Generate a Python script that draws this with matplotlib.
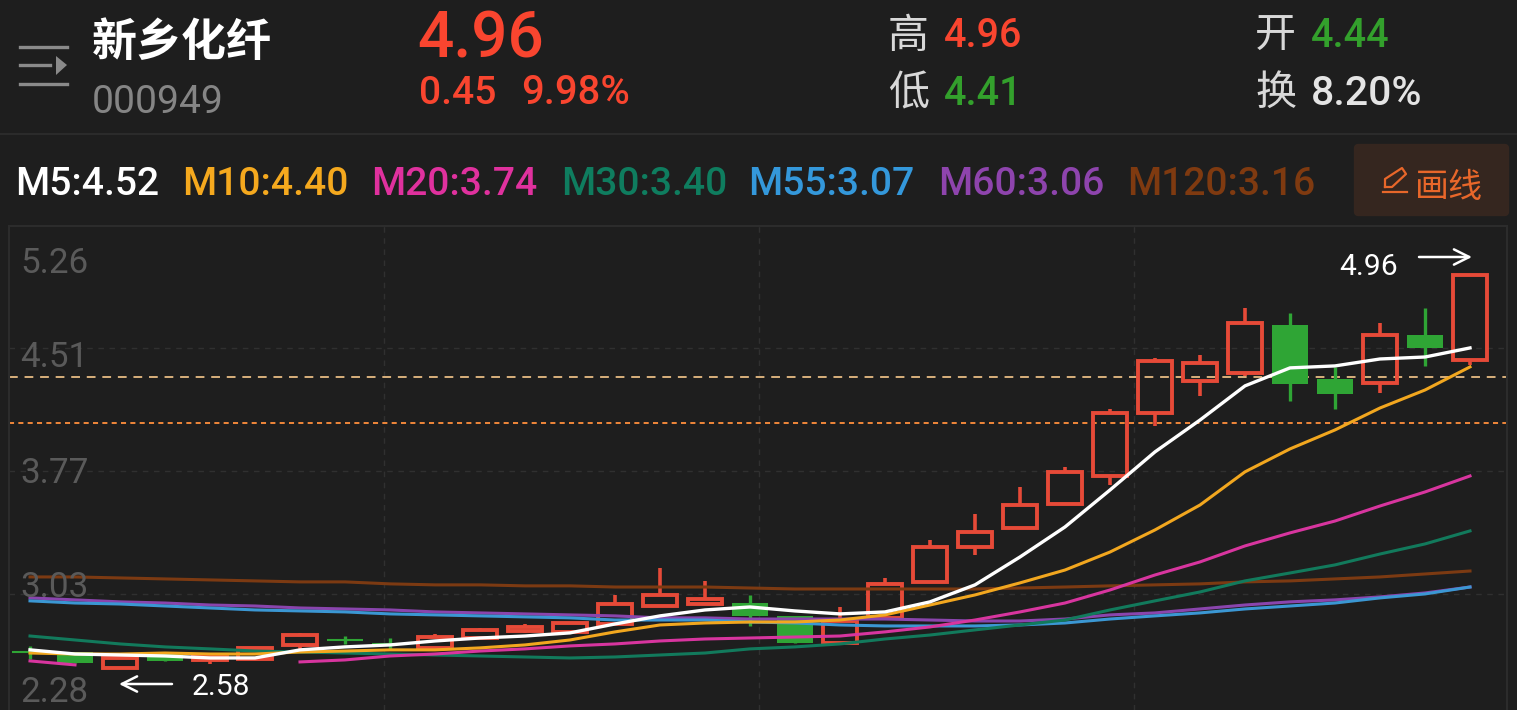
import matplotlib
matplotlib.use("Agg")
import matplotlib.pyplot as plt
from matplotlib.patches import Rectangle, FancyBboxPatch, Polygon
import numpy as np

nan = float("nan")

opens = [2.672, 2.672, 2.575, 2.672, 2.624, 2.630, 2.715, 2.745, 2.721, 2.697, 2.757,
         2.800, 2.794, 2.842, 2.951, 2.963, 2.969, 2.891, 2.727, 2.879, 3.097, 3.309,
         3.424, 3.569, 3.739, 4.121, 4.315, 4.363, 4.654, 4.327, 4.303, 4.593, 4.44]
highs = [2.709, 2.672, 2.642, 2.672, 2.654, 2.697, 2.788, 2.769, 2.757, 2.781, 2.818,
         2.842, 2.848, 3.018, 3.181, 3.103, 3.018, 2.891, 2.945, 3.121, 3.352, 3.509,
         3.673, 3.794, 4.145, 4.454, 4.472, 4.757, 4.727, 4.400, 4.666, 4.757, 4.96]
lows = [2.630, 2.606, 2.575, 2.618, 2.600, 2.630, 2.685, 2.721, 2.685, 2.697, 2.757,
        2.788, 2.794, 2.842, 2.951, 2.963, 2.830, 2.727, 2.727, 2.879, 3.091, 3.260,
        3.424, 3.569, 3.685, 4.042, 4.224, 4.345, 4.194, 4.145, 4.242, 4.406, 4.41]
closes = [2.670, 2.606, 2.636, 2.618, 2.654, 2.697, 2.775, 2.743, 2.719, 2.763, 2.806,
          2.824, 2.848, 2.963, 3.018, 2.994, 2.891, 2.727, 2.860, 3.085, 3.309, 3.400,
          3.563, 3.764, 4.121, 4.436, 4.424, 4.666, 4.297, 4.236, 4.593, 4.515, 4.96]

m5 = [2.685, 2.660, 2.654, 2.648, 2.636, 2.636, 2.685, 2.703, 2.715, 2.739, 2.757,
      2.769, 2.788, 2.842, 2.891, 2.927, 2.945, 2.921, 2.903, 2.915, 2.976, 3.079,
      3.248, 3.430, 3.654, 3.885, 4.078, 4.285, 4.394, 4.406, 4.448, 4.460, 4.515]
m10 = [2.666, 2.660, 2.660, 2.666, 2.660, 2.660, 2.672, 2.678, 2.685, 2.685, 2.697,
       2.715, 2.745, 2.794, 2.836, 2.848, 2.854, 2.854, 2.866, 2.897, 2.957, 3.018,
       3.091, 3.169, 3.278, 3.412, 3.563, 3.764, 3.903, 4.018, 4.151, 4.260, 4.400]
m20 = [2.618, 2.594, nan, nan, nan, nan, 2.612, 2.624, 2.648, 2.660, 2.678,
       2.691, 2.709, 2.721, 2.739, 2.751, 2.757, 2.763, 2.769, 2.794, 2.824, 2.866,
       2.915, 2.969, 3.048, 3.139, 3.218, 3.315, 3.394, 3.466, 3.557, 3.642, 3.739]
m30 = [2.769, 2.745, 2.721, 2.703, 2.691, 2.678, 2.672, 2.666, 2.660, 2.654, 2.648,
       2.642, 2.636, 2.642, 2.654, 2.666, 2.691, 2.703, 2.721, 2.751, 2.775, 2.806,
       2.836, 2.866, 2.927, 2.982, 3.036, 3.103, 3.151, 3.200, 3.266, 3.327, 3.406]
m55 = [2.982, 2.969, 2.963, 2.951, 2.939, 2.927, 2.921, 2.915, 2.903, 2.897, 2.891,
       2.885, 2.879, 2.866, 2.866, 2.866, 2.854, 2.848, 2.836, 2.830, 2.830, 2.830,
       2.836, 2.848, 2.872, 2.891, 2.909, 2.933, 2.951, 2.969, 3.000, 3.024, 3.066]
m60 = [3.000, 2.988, 2.976, 2.969, 2.957, 2.951, 2.939, 2.933, 2.927, 2.915, 2.909,
       2.903, 2.897, 2.891, 2.879, 2.879, 2.872, 2.872, 2.872, 2.872, 2.866, 2.860,
       2.860, 2.872, 2.897, 2.909, 2.933, 2.957, 2.976, 2.988, 3.006, 3.030, 3.066]
m120 = [3.127, 3.127, 3.121, 3.115, 3.109, 3.103, 3.097, 3.097, 3.085, 3.079, 3.079,
        3.073, 3.073, 3.066, 3.066, 3.066, 3.060, 3.054, 3.054, 3.054, 3.054, 3.054,
        3.060, 3.066, 3.073, 3.079, 3.085, 3.097, 3.103, 3.115, 3.127, 3.145, 3.163]

y_ticks = [5.26, 4.515, 3.77, 3.024]
y_tick_labels = ["5.26", "4.51", "3.77", "3.03", "2.28"]
y_label_base = [273, 367, 483, 597, 702]
x_grid = [7.86, 16.2, 24.53]
draw_levels = [4.339, 4.06]

BG = "#1e1e1e"
RED = "#e64a38"
GREEN = "#2fa535"
TXT_RED = "#f9452f"
TXT_GREEN = "#33a02c"
W, H = 1517, 710
LATIN = ["Roboto", "DejaVu Sans"]
CJK = ["Noto Sans CJK SC", "DejaVu Sans"]

fig = plt.figure(figsize=(W / 100, H / 100), dpi=100, facecolor=BG)

# price axes, placed at pixel box x 9-1507, y 226-710
ax = fig.add_axes([9 / W, 0, (1507 - 9) / W, (710 - 226) / H], facecolor=BG)
ax.set_xlim((9 - 30) / 45, (1507 - 30) / 45)
ax.set_ylim(5.26 - (710 - 225) / 165, 5.26 - 1 / 165)
ax.set_xticks([])
ax.set_yticks([])
for name, sp in ax.spines.items():
    sp.set_color("#2c2c2c")
    sp.set_linewidth(1.5)
ax.spines["bottom"].set_visible(False)

for yv in y_ticks:
    ax.axhline(yv, color="#303030", lw=1, ls=(0, (4, 4)), zorder=1)
for xv in x_grid:
    ax.axvline(xv, color="#303030", lw=1, ls=(0, (4, 4)), zorder=1)

ax.axhline(draw_levels[0], color="#d9b07c", lw=1.4, ls=(0, (4.5, 3.5)), zorder=2)
ax.axhline(draw_levels[1], color="#f0873a", lw=1.4, ls=(0, (2.6, 2.2)), zorder=2)

idx = np.arange(len(opens))
for i in idx:
    o, h, l, c = opens[i], highs[i], lows[i], closes[i]
    if c >= o:
        ax.add_patch(Rectangle((i - 0.38, o), 0.76, c - o, fc="none", ec=RED, lw=2.8, zorder=3))
        ax.vlines(i, c, h, color=RED, lw=2.6, zorder=3)
        ax.vlines(i, l, o, color=RED, lw=2.6, zorder=3)
    else:
        ax.vlines(i, l, h, color=GREEN, lw=2.4, zorder=3)
        ax.add_patch(Rectangle((i - 0.41, c), 0.82, o - c, fc=GREEN, ec="none", zorder=3))
ax.hlines([closes[0], closes[7], closes[8]], [-0.41, 6.6, 7.6], [0.41, 7.4, 8.4], color=GREEN, lw=1.5, zorder=3)

ax.plot(idx, m120, color="#7c3a12", lw=2.2, zorder=4)
ax.plot(idx, m60, color="#8a45ad", lw=2.2, zorder=4)
ax.plot(idx, m55, color="#3b97d3", lw=2.2, zorder=4)
ax.plot(idx, m30, color="#127a5c", lw=2.2, zorder=4)
ax.plot(idx, m20, color="#d8359f", lw=2.2, zorder=4)
ax.plot(idx, m10, color="#f2a71f", lw=2.2, zorder=5)
ax.plot(idx, m5, color="#ffffff", lw=2.4, zorder=6)

# overlay in pixel coordinates for the header and labels
ov = fig.add_axes([0, 0, 1, 1], facecolor="none")
ov.set_xlim(0, W)
ov.set_ylim(H, 0)
ov.axis("off")


def put(x, y, s, px, color, fam=LATIN, **kw):
    ov.text(x, y, s, fontsize=px * 0.72, color=color, family=fam, va="baseline", **kw)


ov.plot([0, W], [134, 134], color="#2e2e2e", lw=1.2)
ov.plot([20, 67], [47, 47], color="#8a8a8a", lw=2.4)
ov.plot([20, 50], [65, 65], color="#8a8a8a", lw=2.4)
ov.plot([20, 67], [84, 84], color="#8a8a8a", lw=2.4)
ov.add_patch(Polygon([[56, 56], [67, 65], [56, 75]], fc="#8a8a8a", ec="none"))

put(92, 56, "新乡化纤", 45, "#ffffff", fam=CJK, fontweight="bold")
put(92, 113, "000949", 39, "#858585")
put(417, 58, "4.96", 64, TXT_RED, fontweight="medium")
put(419, 104, "0.45", 39, TXT_RED, fontweight="medium")
put(521, 104, "9.98%", 40, TXT_RED, fontweight="medium")
put(888, 48, "高", 41, "#d8d8d8", fam=CJK)
put(944, 47, "4.96", 39.5, TXT_RED, fontweight="medium")
put(1255, 48, "开", 41, "#d8d8d8", fam=CJK)
put(1311, 47, "4.44", 39.5, TXT_GREEN, fontweight="medium")
put(888, 105, "低", 41, "#d8d8d8", fam=CJK)
put(944, 105, "4.41", 39.5, TXT_GREEN, fontweight="medium")
put(1255, 105, "换", 41, "#d8d8d8", fam=CJK)
put(1311, 105, "8.20%", 41, "#e4e4e4", fontweight="medium")

legend_text = ["M5:4.52", "M10:4.40", "M20:3.74", "M30:3.40", "M55:3.07", "M60:3.06", "M120:3.16"]
legend_x = [15, 182, 371, 561, 748, 938, 1127]
legend_col = ["#ffffff", "#f5a91e", "#e0319e", "#0f7d5f", "#3498db", "#8e44ad", "#7f3a10"]
for s, xp, col in zip(legend_text, legend_x, legend_col):
    put(xp, 195, s, 39, col, fontweight="medium")

ov.add_patch(FancyBboxPatch((1358, 148), 147, 64, boxstyle="round,pad=0,rounding_size=0", fc="#35261f",
                            ec="#35261f", lw=6, joinstyle="round"))
ov.plot([1383, 1407], [192, 192], color="#e8672a", lw=1.6)
ov.plot([1385, 1385, 1402, 1406, 1392, 1385], [187, 179, 168, 174, 187, 187], color="#e8672a", lw=1.6)
put(1415, 197, "画线", 34, "#e8672a", fam=CJK)

for s, yb in zip(y_tick_labels, y_label_base):
    put(20, yb, s, 35, "#5a5a5a")

put(1339, 275, "4.96", 30, "#ffffff")
ov.annotate("", xy=(1472, 257), xytext=(1419, 257),
            arrowprops=dict(arrowstyle="->,head_length=1.1,head_width=0.55", color="#ffffff", lw=1.8, shrinkA=0, shrinkB=0))
put(192, 695, "2.58", 30, "#ffffff")
ov.annotate("", xy=(119, 684), xytext=(172, 684),
            arrowprops=dict(arrowstyle="->,head_length=1.1,head_width=0.55", color="#ffffff", lw=1.8, shrinkA=0, shrinkB=0))

fig.savefig("out.png", dpi=100, facecolor=BG)
